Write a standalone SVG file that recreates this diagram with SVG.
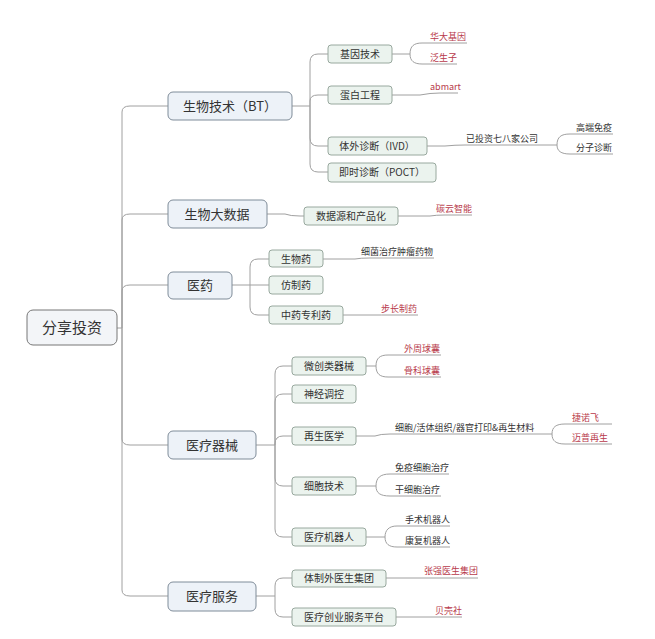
<svg xmlns="http://www.w3.org/2000/svg" width="655" height="639" viewBox="0 0 655 639">
<style>
text{font-family:"Noto Sans CJK SC","Liberation Sans",sans-serif;fill:#333}
.l0 rect{fill:#f3f5f8;stroke:#777;stroke-width:1}
.l1 rect{fill:#edf2f8;stroke:#7f8c99;stroke-width:1}
.l2 rect{fill:#ebf3ee;stroke:#98a89e;stroke-width:1}
.t1{font-size:13px}
.t2{font-size:10px}
.t3{font-size:9px}
.r{fill:#b83a4b}
#c path{fill:none;stroke:#a0a0a0;stroke-width:1}
</style>
<rect width="655" height="639" fill="#fff"/>
<g id="c">
<path d="M117,328 H122 M122,328 V112 Q122,106 130,106 H168 M122,328 V220 Q122,214 130,214 H168 M122,328 V291 Q122,285 130,285 H168 M122,328 V439 Q122,445 130,445 H168 M122,328 V590 Q122,596 130,596 H168"/>
<path d="M292,106 H310 M310,106 V62 Q310,54 318,54 H328 M310,106 V101 Q310,95 318,95 H328 M310,106 V138 Q310,146 318,146 H328 M310,106 V164 Q310,172 318,172 H328"/>
<path d="M392,54 H410 M410,54 C410,46 414,43 422,43 H467 M410,54 C410,61 414,64 422,64 H457"/>
<path d="M392,95 H420 Q430,93 440,93 H458"/>
<path d="M427,146 H445 Q455,145 465,145 H557 M557,145 C557,137 561,134 570,134 H613 M557,145 C557,151 561,154 570,154 H613"/>
<path d="M267,214 H285 Q290,216 300,216 H304 M398,216 H430 Q436,215 445,215 H472"/>
<path d="M232,285 H250 M250,285 V267 Q250,259 258,259 H269 M250,285 H269 M250,285 V307 Q250,315 258,315 H269"/>
<path d="M323,259 H355 Q360,258 370,258 H434 M343,315 H375 Q380,315 390,315 H418"/>
<path d="M256,445 H275 M275,445 V374 Q275,366 283,366 H292 M275,445 V402 Q275,394 283,394 H292 M275,445 V444 Q275,436 283,436 H292 M275,445 V478 Q275,486 283,486 H292 M275,445 V529 Q275,537 283,537 H292"/>
<path d="M366,366 H376 M376,366 C376,358 380,355 388,355 H441 M376,366 C376,374 380,377 388,377 H441"/>
<path d="M356,436 H375 Q380,434 390,434 H552 M552,434 C552,427 556,424 565,424 H612 M552,434 C552,441 556,444 565,444 H612"/>
<path d="M356,486 H376 M376,486 C376,478 380,474 390,474 H449 M376,486 C376,493 380,496 390,496 H441"/>
<path d="M366,537 H385 M385,537 C385,530 389,526 397,526 H450 M385,537 C385,544 389,547 397,547 H450"/>
<path d="M256,596 H275 M275,596 V586 Q275,578 283,578 H292 M275,596 V609 Q275,617 283,617 H292"/>
<path d="M386,578 H478 M396,617 H462"/>
</g>
<g id="root" class="l0"><rect x="27" y="310" width="90" height="35" rx="6"/><text x="72" y="333" text-anchor="middle" style="font-size:15px">分享投资</text></g>
<g id="bt" class="l1"><rect x="168" y="92" width="124" height="28" rx="5"/><text class="t1" x="230" y="111" text-anchor="middle">生物技术（BT）</text></g>
<g id="bigdata" class="l1"><rect x="168" y="200" width="99" height="28" rx="5"/><text class="t1" x="217" y="219" text-anchor="middle">生物大数据</text></g>
<g id="yiyao" class="l1"><rect x="168" y="272" width="64" height="27" rx="5"/><text class="t1" x="200" y="290" text-anchor="middle">医药</text></g>
<g id="qixie" class="l1"><rect x="168" y="431" width="88" height="28" rx="5"/><text class="t1" x="212" y="450" text-anchor="middle">医疗器械</text></g>
<g id="fuwu" class="l1"><rect x="168" y="582" width="88" height="29" rx="5"/><text class="t1" x="212" y="601" text-anchor="middle">医疗服务</text></g>
<g id="jiyin" class="l2"><rect x="328" y="45" width="64" height="18" rx="3"/><text class="t2" x="360" y="58" text-anchor="middle">基因技术</text></g>
<g id="danbai" class="l2"><rect x="328" y="86" width="64" height="18" rx="3"/><text class="t2" x="360" y="99" text-anchor="middle">蛋白工程</text></g>
<g id="ivd" class="l2"><rect x="328" y="137" width="99" height="18" rx="3"/><text class="t2" x="377" y="150" text-anchor="middle">体外诊断（IVD）</text></g>
<g id="poct" class="l2"><rect x="328" y="163" width="108" height="19" rx="3"/><text class="t2" x="382" y="176" text-anchor="middle">即时诊断（POCT）</text></g>
<g id="shuju" class="l2"><rect x="304" y="207" width="94" height="18" rx="3"/><text class="t2" x="351" y="220" text-anchor="middle">数据源和产品化</text></g>
<g id="swy" class="l2"><rect x="269" y="250" width="54" height="17" rx="3"/><text class="t2" x="296" y="263" text-anchor="middle">生物药</text></g>
<g id="fzy" class="l2"><rect x="269" y="276" width="54" height="18" rx="3"/><text class="t2" x="296" y="289" text-anchor="middle">仿制药</text></g>
<g id="zy" class="l2"><rect x="269" y="306" width="74" height="18" rx="3"/><text class="t2" x="306" y="319" text-anchor="middle">中药专利药</text></g>
<g id="wc" class="l2"><rect x="292" y="357" width="74" height="18" rx="3"/><text class="t2" x="329" y="370" text-anchor="middle">微创类器械</text></g>
<g id="sj" class="l2"><rect x="292" y="385" width="64" height="18" rx="3"/><text class="t2" x="324" y="398" text-anchor="middle">神经调控</text></g>
<g id="zs" class="l2"><rect x="292" y="427" width="64" height="18" rx="3"/><text class="t2" x="324" y="440" text-anchor="middle">再生医学</text></g>
<g id="xb" class="l2"><rect x="292" y="477" width="64" height="18" rx="3"/><text class="t2" x="324" y="490" text-anchor="middle">细胞技术</text></g>
<g id="jqr" class="l2"><rect x="292" y="528" width="74" height="18" rx="3"/><text class="t2" x="329" y="541" text-anchor="middle">医疗机器人</text></g>
<g id="ysjt" class="l2"><rect x="292" y="570" width="94" height="17" rx="3"/><text class="t2" x="339" y="582" text-anchor="middle">体制外医生集团</text></g>
<g id="cy" class="l2"><rect x="292" y="608" width="104" height="18" rx="3"/><text class="t2" x="344" y="621" text-anchor="middle">医疗创业服务平台</text></g>
<g id="leaves" class="t3">
<text class="t3 r" x="430" y="40">华大基因</text>
<text class="t3 r" x="430" y="61">泛生子</text>
<text class="t3 r" x="430" y="90">abmart</text>
<text class="t3" x="466" y="142">已投资七八家公司</text>
<text class="t3" x="576" y="131">高端免疫</text>
<text class="t3" x="576" y="151">分子诊断</text>
<text class="t3 r" x="436" y="212">碳云智能</text>
<text class="t3" x="361" y="255">细菌治疗肿瘤药物</text>
<text class="t3 r" x="381" y="312">步长制药</text>
<text class="t3 r" x="404" y="352">外周球囊</text>
<text class="t3 r" x="404" y="374">骨科球囊</text>
<text class="t3" x="395" y="431">细胞/活体组织/器官打印&amp;再生材料</text>
<text class="t3 r" x="572" y="421">捷诺飞</text>
<text class="t3 r" x="572" y="441">迈普再生</text>
<text class="t3" x="395" y="471">免疫细胞治疗</text>
<text class="t3" x="395" y="493">干细胞治疗</text>
<text class="t3" x="405" y="523">手术机器人</text>
<text class="t3" x="405" y="544">康复机器人</text>
<text class="t3 r" x="424" y="574">张强医生集团</text>
<text class="t3 r" x="435" y="614">贝壳社</text>
</g>
</svg>
